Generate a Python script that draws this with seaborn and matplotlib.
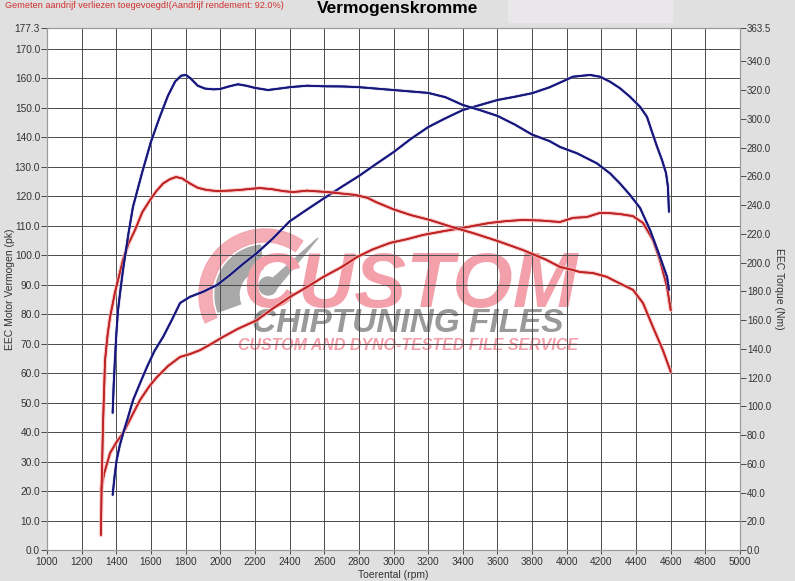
"""
Dyno chart: power and torque, stock (red) vs tuned (blue).
"""

import numpy as np
import pandas as pd
import matplotlib
matplotlib.use("Agg")
import matplotlib.pyplot as plt
import matplotlib.patheffects as pe
from matplotlib.patches import Rectangle, Wedge, Circle, Polygon
import seaborn as sns

# ── Data ──────────────────────────────────────────────────────────────────────
# tuned power (pk, left axis)
rpm_pwr_tuned = [1379, 1390, 1402, 1420, 1440, 1470, 1497, 1540, 1577, 1620,
                 1670, 1720, 1768, 1825, 1900, 1981, 2056, 2130, 2212, 2300,
                 2400, 2500, 2600, 2700, 2800, 2900, 3000, 3100, 3200, 3300,
                 3400, 3500, 3600, 3700, 3800, 3900, 3961, 4036, 4134, 4192,
                 4250, 4307, 4365, 4423, 4463, 4492, 4521, 4550, 4573, 4584, 4590]
pwr_tuned = [18.7, 25.0, 30.5, 35.5, 39.7, 45.5, 50.9, 57.0, 62.1, 67.5,
             72.3, 78.0, 83.8, 85.9, 87.6, 89.9, 93.3, 97.0, 100.8, 105.5,
             111.5, 115.5, 119.4, 123.2, 126.9, 131.0, 135.0, 139.5, 143.5, 146.5,
             149.3, 151.0, 152.7, 153.8, 155.0, 157.0, 158.6, 160.6, 161.2, 160.6,
             158.9, 156.7, 153.8, 150.4, 147.0, 141.9, 136.9, 132.3, 127.9, 123.3, 114.8]

# tuned torque (Nm, right axis)
rpm_trq_tuned = [1379, 1385, 1392, 1400, 1410, 1425, 1439, 1470, 1496, 1550,
                 1600, 1650, 1698, 1740, 1775, 1802, 1830, 1870, 1912, 1960,
                 1999, 2050, 2102, 2150, 2200, 2276, 2340, 2403, 2500, 2600,
                 2700, 2800, 2900, 3000, 3100, 3200, 3300, 3400, 3500, 3600,
                 3700, 3800, 3900, 3961, 4059, 4174, 4250, 4307, 4365, 4423,
                 4481, 4538, 4579, 4590]
trq_tuned = [95.5, 115, 132, 150, 167, 182, 195, 220, 238.6, 263,
             284, 301, 316, 326, 330, 330.5, 328, 323, 321, 320.5,
             320.7, 322.5, 324, 323, 321.5, 320, 321, 322, 323, 322.6,
             322.5, 322, 321, 320, 319, 318, 315, 309.6, 306, 302,
             296, 289, 284.5, 280.4, 276, 269, 262, 255, 247, 238,
             222.6, 204, 190, 181]

# stock power (pk, left axis)
rpm_pwr_stock = [1312, 1330, 1364, 1400, 1439, 1490, 1537, 1590, 1635, 1700,
                 1768, 1825, 1883, 1950, 2016, 2100, 2212, 2300, 2403, 2500,
                 2593, 2700, 2789, 2880, 2980, 3080, 3170, 3290, 3401, 3480,
                 3557, 3650, 3747, 3850, 3961, 4036, 4117, 4192, 4250, 4307,
                 4382, 4440, 4498, 4538, 4579, 4600]
pwr_stock = [20.4, 26.0, 32.9, 36.5, 39.7, 45.5, 50.9, 55.5, 58.7, 62.5,
             65.5, 66.5, 67.8, 70.0, 72.3, 75.0, 78.0, 81.8, 85.9, 89.2,
             92.6, 96.0, 99.4, 102.0, 104.2, 105.5, 106.9, 108.2, 109.3, 110.2,
             111.0, 111.6, 112.0, 111.8, 111.3, 112.7, 113.0, 114.4, 114.3, 114.0,
             113.3, 111.0, 105.2, 98.4, 89.2, 81.4]

# stock torque (Nm, right axis)
rpm_trq_stock = [1311, 1315, 1323, 1335, 1350, 1364, 1392, 1439, 1470, 1508,
                 1550, 1595, 1630, 1670, 1710, 1745, 1780, 1825, 1870, 1920,
                 1981, 2050, 2114, 2170, 2229, 2300, 2362, 2420, 2500, 2560,
                 2620, 2700, 2780, 2850, 2900, 3000, 3100, 3210, 3330, 3459,
                 3600, 3747, 3880, 3961, 4036, 4076, 4151, 4232, 4267, 4382,
                 4440, 4498, 4555, 4600]
trq_stock = [10.4, 42, 86, 132, 150, 162, 179, 202, 213, 222.6,
             235, 243.5, 249.5, 255, 258, 259.5, 258.5, 255, 252, 250.5,
             249.7, 250, 250.5, 251.2, 251.8, 251, 249.7, 249, 250, 249.5,
             249, 248, 247, 245, 242, 237, 233, 229.6, 225, 220.5,
             215, 208.7, 202, 196.9, 194.8, 193.4, 192.7, 190, 187.8, 181,
             171.8, 155, 139, 124]

x_ticks = list(range(1000, 5001, 200))
left_ticks = [float(v) for v in range(0, 171, 10)] + [177.3]
right_ticks = [float(v) for v in range(0, 341, 20)] + [363.5]

# ── Style ─────────────────────────────────────────────────────────────────────
sns.set_style("white")
plt.rcParams.update({
    "font.family": ["Liberation Sans", "DejaVu Sans"],
    "figure.facecolor": "#e0e0e0",
})

BLUE = "#16167c"
RED = "#bf2222"
GRID = "#4a4a4a"
TXT = "#333333"

W, H = 795, 581
fig = plt.figure(figsize=(W / 100, H / 100), dpi=100)

# lighter strip at the top
fig.patches.append(Rectangle((508 / W, 1 - 22 / H), 164 / W, 22 / H,
                             transform=fig.transFigure, color="#e9e7e9", zorder=0))

L, R, T, B = 47, 740, 27.5, 550
rect = [L / W, 1 - B / H, (R - L) / W, (B - T) / H]

# background + watermark layer (pixel coordinates, y pointing down)
bg = fig.add_axes(rect, zorder=-1)
bg.set_xlim(L, R)
bg.set_ylim(B, T)
bg.axis("off")
bg.add_patch(Rectangle((L, T), R - L, B - T, color="white", zorder=0))
# y is inverted, so screen angle a -> data angle -a
bg.add_patch(Wedge((265, 295), 66, -205, -55, width=13, color="#f3a4ad",
                   alpha=0.9, zorder=1))
bg.add_patch(Wedge((265, 295), 50, -200, -95, width=24, color="#a8a8a8", zorder=1))
bg.add_patch(Polygon([[262, 288], [272, 294], [318, 238]], closed=True,
                     color="#a8a8a8", zorder=1))
bg.add_patch(Circle((268, 286), 9, color="#a8a8a8", zorder=1))
bg.text(410, 287, "CUSTOM", fontsize=56, fontweight="bold", fontstyle="italic",
        color="#f3a0aa", ha="center", va="center", zorder=2)
bg.text(408, 324, "CHIPTUNING FILES", fontsize=24, fontweight="bold",
        fontstyle="italic", color="#9a9a9a", ha="center", va="center", zorder=2)
bg.text(408, 346, "CUSTOM AND DYNO-TESTED FILE SERVICE", fontsize=11.5,
        fontweight="bold", fontstyle="italic", color="#f3a0aa",
        ha="center", va="center", zorder=2)

# ── Main axes ─────────────────────────────────────────────────────────────────
ax = fig.add_axes(rect)
ax.set_facecolor("none")
ax2 = ax.twinx()

ax.set_xlim(1000, 5000)
ax.set_ylim(0, 177.3)
ax2.set_ylim(0, 363.5)

ax.set_xticks(x_ticks)
ax.set_yticks(left_ticks)
ax.set_yticklabels([f"{v:.1f}" for v in left_ticks])
ax2.set_yticks(right_ticks)
ax2.set_yticklabels([f"{v:.1f}" for v in right_ticks])

ax.grid(True, color=GRID, linewidth=0.7)
ax2.grid(False)

for a in (ax, ax2):
    for s in a.spines.values():
        s.set_color("#9a9a9a")
        s.set_linewidth(0.8)
ax.tick_params(axis="both", labelsize=7.3, colors=TXT, length=4, width=0.6,
               pad=1, direction="out", left=True, bottom=True)
ax.tick_params(axis="x", length=3, pad=2)
ax2.tick_params(axis="y", labelsize=7.0, colors=TXT, length=4, width=0.6,
                pad=1, direction="out", right=True)

glow_r = [pe.withStroke(linewidth=3.0, foreground="#f6b4b4", alpha=0.7), pe.Normal()]
glow_b = [pe.withStroke(linewidth=2.4, foreground="#b8b8e0", alpha=0.5), pe.Normal()]

sns.lineplot(x=rpm_trq_stock, y=trq_stock, ax=ax2, color=RED, linewidth=1.2,
             estimator=None, sort=False, path_effects=glow_r)
sns.lineplot(x=rpm_pwr_stock, y=pwr_stock, ax=ax, color=RED, linewidth=1.2,
             estimator=None, sort=False, path_effects=glow_r)
sns.lineplot(x=rpm_pwr_tuned, y=pwr_tuned, ax=ax, color=BLUE, linewidth=1.3,
             estimator=None, sort=False, path_effects=glow_b)
sns.lineplot(x=rpm_trq_tuned, y=trq_tuned, ax=ax2, color=BLUE, linewidth=1.3,
             estimator=None, sort=False, path_effects=glow_b)

ax.set_xlabel("Toerental (rpm)", fontsize=7.5, color=TXT, va="center")
ax.xaxis.set_label_coords(0.5, -0.047)
ax.set_ylabel("EEC Motor Vermogen (pk)", fontsize=7.5, color=TXT, va="center")
ax.yaxis.set_label_coords(-0.054, 0.5)
ax2.set_ylabel("EEC Torque (Nm)", fontsize=7.5, color=TXT, rotation=270,
               va="center")
ax2.yaxis.set_label_coords(1.056, 0.5)

fig.text(5 / W, 1 - 6 / H,
         "Gemeten aandrijf verliezen toegevoegd!(Aandrijf rendement: 92.0%)",
         fontsize=6.6, color="#d03030", ha="left", va="center")
fig.text(0.5, 1 - 9 / H, "Vermogenskromme", fontsize=12.5, fontweight="bold",
         color="black", ha="center", va="center")

fig.savefig("out.png", dpi=100)
